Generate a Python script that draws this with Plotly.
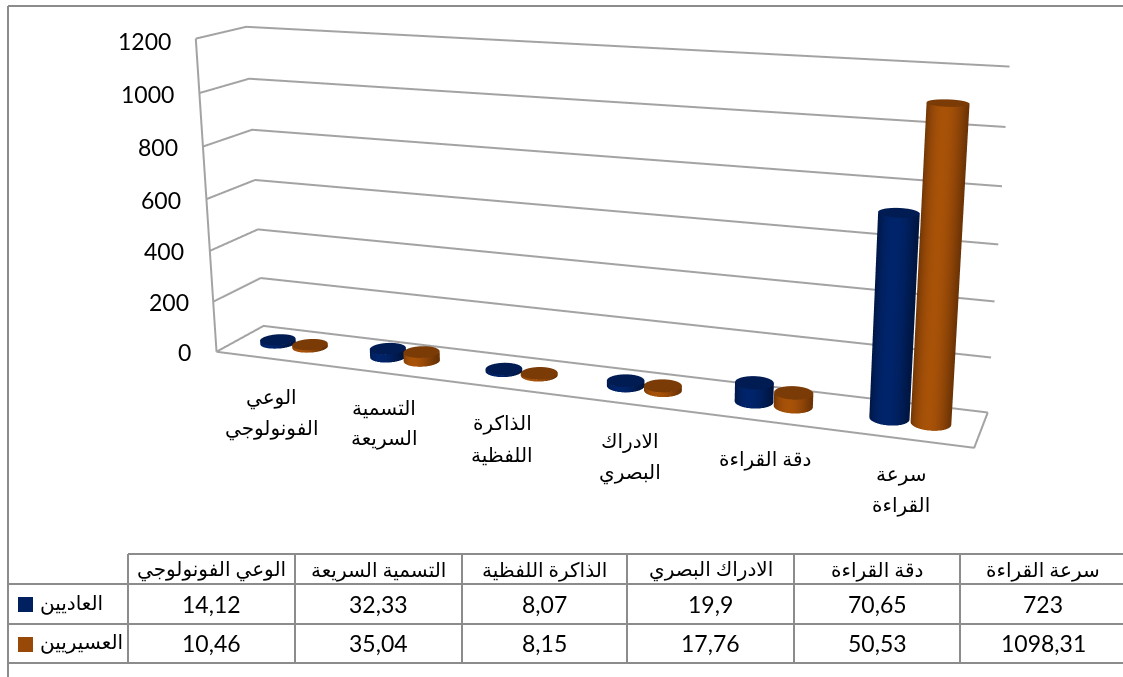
import numpy as np
import plotly.graph_objects as go

categories = ["الوعي الفونولوجي", "التسمية السريعة", "الذاكرة اللفظية", "الادراك البصري", "دقة القراءة", "سرعة القراءة"]
axis_labels = [["الوعي", "الفونولوجي"], ["التسمية", "السريعة"], ["الذاكرة", "اللفظية"], ["الادراك", "البصري"], ["دقة القراءة"], ["سرعة", "القراءة"]]
series_names = ["العاديين", "العسيريين"]
normal = [14.12, 32.33, 8.07, 19.9, 70.65, 723]
struggling = [10.46, 35.04, 8.15, 17.76, 50.53, 1098.31]
normal_text = ["14,12", "32,33", "8,07", "19,9", "70,65", "723"]
struggling_text = ["10,46", "35,04", "8,15", "17,76", "50,53", "1098,31"]
z_ticks = [0, 200, 400, 600, 800, 1000, 1200]

FW, FH, TOP = 1228, 1364, 441
def px(x): return x/FW
def py(y): return 1-(y+TOP)/FH

ex,ey,ez,tx,ty,tz,r,ay,az = 0.70283,-1.84514,0.50525,0.03974,0.00927,-0.02492,-0.00214,0.11848,0.41958

fig=go.Figure()
rx=0.142
off=0.148
ry=(rx/6)/ay
theta=np.linspace(0,2*np.pi,61)
flat=dict(ambient=1,diffuse=0,specular=0,fresnel=0)
def cyl(xc,v,dark,bright,capc):
    X=xc+rx*np.cos(theta);Y=0.5+ry*np.sin(theta)
    xx=np.array([X,X]);yy=np.array([Y,Y]);zz=np.array([np.zeros_like(X),np.full_like(X,v)])
    sc=np.array([1-np.abs(np.cos(theta))**2]*2)
    fig.add_surface(x=xx,y=yy,z=zz,surfacecolor=sc,colorscale=[[0,dark],[1,bright]],cmin=0,cmax=1,showscale=False,lighting=flat,hoverinfo="skip")
    rr=np.array([0,1.0])
    xc2=np.outer(rr,X-xc)+xc;yc2=np.outer(rr,Y-0.5)+0.5
    fig.add_surface(x=xc2,y=yc2,z=np.full_like(xc2,v),surfacecolor=np.zeros_like(xc2),colorscale=[[0,capc],[1,capc]],showscale=False,lighting=flat,hoverinfo="skip")
for i in range(6):
    cyl(i+0.5-off,normal[i],"#00153f","#00246b","#011c52")
    cyl(i+0.5+off,struggling[i],"#6b3305","#a85208","#7a3b06")

lx,ly,lz=[],[],[]
for zv in z_ticks:
    lx+=[0,0,6,None];ly+=[0,1,1,None];lz+=[zv,zv,zv,None]
lx+=[0,0,None,0,6,6];ly+=[0,0,None,0,0,1];lz+=[0,1200,None,0,0,0]
fig.add_scatter3d(x=lx,y=ly,z=lz,mode="lines",line=dict(color="#a3a3a3",width=4),hoverinfo="skip",showlegend=False)
ax_off=dict(visible=False,showgrid=False,zeroline=False,showticklabels=False,showspikes=False)

GRID="#8c8c8c"
shapes=[]
def seg(x0,y0,x1,y1):
    shapes.append(dict(type="line",xref="paper",yref="paper",x0=px(x0),y0=py(y0),x1=px(x1),y1=py(y1),line=dict(color=GRID,width=2)))
seg(8,6,1123,6);seg(8,6,8,677)
seg(128,554,1123,554)
for y in [584,624,663]: seg(8,y,1123,y)
columns=[128,295,462,627,794,960,1126]
for x in columns[:-1]: seg(x,554,x,663)
legend_colors=["#002060","#984807"]
for y0,c in zip([597,637],legend_colors):
    shapes.append(dict(type="rect",xref="paper",yref="paper",x0=px(18),x1=px(33),y0=py(y0),y1=py(y0+15),fillcolor=c,line=dict(width=0)))

ARABIC="Liberation Serif, DejaVu Sans"
NUM="Lato"
ann=[]
def text(x,y,s,fam,size,anchor="center"):
    ann.append(dict(x=px(x),y=py(y),xref="paper",yref="paper",text=s,showarrow=False,xanchor=anchor,yanchor="middle",font=dict(family=fam,size=size,color="#000000")))
for t,xr,y in zip(z_ticks,[193,191,186,183,180,176,173],[352,302,251,200,147,94,41]):
    text(xr,y,str(t),NUM,23,"right")
for parts,(x,y) in zip(axis_labels,[(271,413),(384,423),(502,439),(630,457),(765,459),(901,490)]):
    if len(parts)==1:
        text(x,y,parts[0],ARABIC,20)
    else:
        text(x,y-15.5,parts[0],ARABIC,20)
        text(x,y+15.5,parts[1],ARABIC,20)
for i in range(6):
    xc=(columns[i]+columns[i+1])/2
    text(xc,570,categories[i],ARABIC,20)
    text(xc,603.5,normal_text[i],NUM,23)
    text(xc,642.5,struggling_text[i],NUM,23)
text(38,603,series_names[0],ARABIC,20,"left")
text(38,642,series_names[1],ARABIC,20,"left")

fig.update_layout(width=FW,height=FH,margin=dict(l=0,r=0,t=0,b=0),paper_bgcolor="white",showlegend=False,shapes=shapes,annotations=ann,
    scene=dict(domain=dict(x=[0,1],y=[0,1]),bgcolor="rgba(0,0,0,0)",
        xaxis=dict(range=[0,6],**ax_off),yaxis=dict(range=[0,1],**ax_off),zaxis=dict(range=[0,1200],**ax_off),
        aspectmode="manual",aspectratio=dict(x=1,y=ay,z=az),
        camera=dict(eye=dict(x=ex,y=ey,z=ez),center=dict(x=tx,y=ty,z=tz),
                    up=dict(x=float(np.sin(r)),y=0,z=float(np.cos(r))),projection=dict(type="perspective"))))
fig.write_html("out.html",config={"displayModeBar":False},
    post_script=f"document.body.style.margin='0';document.body.style.overflow='hidden';document.getElementById('{{plot_id}}').style.marginTop='-{TOP}px';")
